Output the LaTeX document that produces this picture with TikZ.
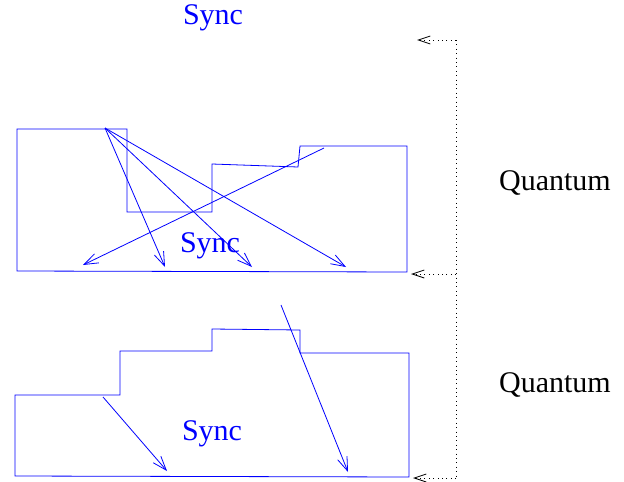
\documentclass[tikz,border=0pt]{standalone}
\usepackage{fontspec}
\setmainfont{Liberation Serif}
\usetikzlibrary{arrows.meta}

\begin{document}
\begin{tikzpicture}[x=1pt,y=-1pt,line width=0.8pt,
  sync/.style={blue,font=\fontsize{30}{35}\selectfont},
  quantum/.style={font=\fontsize{30}{35}\selectfont},
  flow/.style={blue,-{Straight Barb[length=14pt,width=10pt]}},
  tick/.style={dash pattern=on 0.8pt off 3.6pt,-{Straight Barb[length=12pt,width=8pt]}}]
\useasboundingbox (0,0) rectangle (624,482);
% first quantum
\draw[blue] (17,129)--(127,129)--(127,212)--(212,212)--(212,164)
    --(298,167)--(300,146)--(407,146)--(407,272)--(17,271)--cycle;
\draw[flow] (105,128)--(165,267);
\draw[flow] (105,128)--(252,267);
\draw[flow] (105,128)--(346,267);
\draw[flow] (324,148)--(83,265);
\node[sync] (s1) at (210,246) {Sync};
% second quantum
\draw[blue] (15,395)--(120,395)--(120,351)--(212,351)--(212,329)
    --(300,330)--(300,353)--(409,353)--(409,477)--(15,476)--cycle;
\draw[flow] (103,397)--(167,471);
\draw[flow] (281,305)--(348,472);
\node[sync] (s2) at (212,434) {Sync};
% time line
\node[sync] (s0) at (213,18) {Sync};
\coordinate (t0) at (456,40);
\coordinate (t1) at (456,274);
\coordinate (t2) at (456,478);
\draw[dash pattern=on 0.8pt off 3.6pt] (t0)--(t2);
\draw[tick] (t0)--(417,40);
\draw[tick] (t1)--(411,274);
\draw[tick] (t2)--(413,478);
\node[quantum] (q1) at (555,183) {Quantum};
\node[quantum] (q2) at (555,385) {Quantum};
\end{tikzpicture}
\end{document}
